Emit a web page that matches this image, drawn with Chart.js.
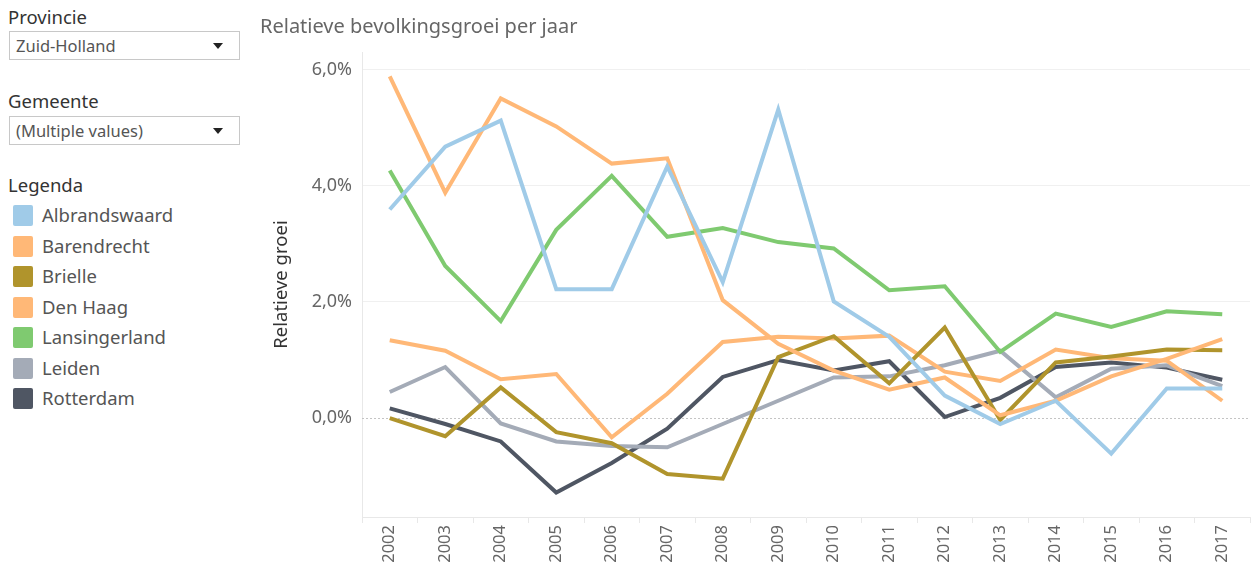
<!DOCTYPE html>
<html>
<head>
<meta charset="utf-8">
<script src="https://cdn.jsdelivr.net/npm/chart.js@4"></script>
<style>
  body { margin: 0; background: #fff; font-family: "Noto Sans", sans-serif; }
  #side { position: absolute; left: 0; top: 0; width: 250px; }
  .label { position: absolute; left: 8px; font-size: 18.5px; color: #333; white-space: nowrap; }
  .select { position: absolute; left: 9px; width: 229px; height: 27px; border: 1px solid #c8c8c8;
            font-size: 16.5px; color: #555; line-height: 27px; box-sizing: content-box; }
  .select span { position: absolute; left: 6px; white-space: nowrap; }
  .select i { position: absolute; right: 16px; top: 11px; width: 0; height: 0;
              border-left: 5px solid transparent; border-right: 5px solid transparent; border-top: 6px solid #222; }
  #legend { position: absolute; left: 12px; top: 205px; }
  .item { height: 30.5px; position: relative; font-size: 18.5px; color: #555; }
  .item b { position: absolute; left: 1px; top: 0; width: 20px; height: 21px; border-radius: 2px; }
  .item span { position: absolute; left: 30px; top: -3px; white-space: nowrap; }
  #wrap { position: absolute; left: 255px; top: 0; width: 1000px; height: 570px; }
</style>
</head>
<body>
<div id="side">
  <div class="label" style="top:4px">Provincie</div>
  <div class="select" style="top:31px"><span>Zuid-Holland</span><i></i></div>
  <div class="label" style="top:88px">Gemeente</div>
  <div class="select" style="top:116px"><span>(Multiple values)</span><i></i></div>
  <div class="label" style="top:172px">Legenda</div>
  <div id="legend"></div>
</div>
<div id="wrap"><canvas id="lineChart"></canvas></div>
<script>
const years = ['2002', '2003', '2004', '2005', '2006', '2007', '2008', '2009',
               '2010', '2011', '2012', '2013', '2014', '2015', '2016', '2017'];

// relatieve groei in procent
const albrandswaard = [3.59, 4.67, 5.12, 2.22, 2.22, 4.33, 2.34, 5.31, 2.01, 1.40, 0.39, -0.10, 0.30, -0.61, 0.51, 0.51];
const barendrecht   = [5.88, 3.88, 5.50, 5.02, 4.38, 4.47, 2.03, 1.28, 0.82, 0.49, 0.70, 0.05, 0.30, 0.72, 1.02, 1.36];
const brielle       = [0.00, -0.31, 0.53, -0.24, -0.43, -0.96, -1.04, 1.05, 1.41, 0.60, 1.56, -0.03, 0.96, 1.06, 1.18, 1.17];
const denHaag       = [1.34, 1.16, 0.67, 0.76, -0.33, 0.42, 1.31, 1.40, 1.37, 1.42, 0.80, 0.64, 1.18, 1.03, 0.99, 0.30];
const lansingerland = [4.26, 2.62, 1.67, 3.24, 4.17, 3.12, 3.27, 3.03, 2.92, 2.20, 2.27, 1.14, 1.80, 1.57, 1.84, 1.79];
const leiden        = [0.45, 0.88, -0.09, -0.40, -0.48, -0.50, -0.10, 0.30, 0.70, 0.72, 0.91, 1.16, 0.36, 0.85, 0.91, 0.55];
const rotterdam     = [0.17, -0.10, -0.40, -1.28, -0.77, -0.18, 0.71, 1.00, 0.82, 0.98, 0.02, 0.35, 0.88, 0.96, 0.87, 0.66];

const yTicks = [0, 2, 4, 6];

const gemeenten = ['Albrandswaard', 'Barendrecht', 'Brielle', 'Den Haag', 'Lansingerland', 'Leiden', 'Rotterdam'];
const series = [albrandswaard, barendrecht, brielle, denHaag, lansingerland, leiden, rotterdam];
const colors = ['#a0cbe8', '#ffb877', '#b0942c', '#ffb877', '#7fca70', '#a4abb7', '#4f5663'];

// Legend on the left
const legend = document.getElementById('legend');
gemeenten.forEach((name, i) => {
    const row = document.createElement('div');
    row.className = 'item';
    row.innerHTML = `<b style="background:${colors[i]}"></b><span>${name}</span>`;
    legend.appendChild(row);
});

// dotted line at 0%
const zeroLine = {
    id: 'zeroLine',
    beforeDatasetsDraw(chart) {
        const { ctx, chartArea, scales: { y } } = chart;
        const py = Math.round(y.getPixelForValue(0)) + 0.5;
        ctx.save();
        ctx.setLineDash([2, 2]);
        ctx.strokeStyle = '#c4c4c4';
        ctx.lineWidth = 1;
        ctx.beginPath();
        ctx.moveTo(chartArea.left, py);
        ctx.lineTo(chartArea.right, py);
        ctx.stroke();
        ctx.restore();
    }
};

const font = 'Noto Sans';
const ctx = document.getElementById('lineChart').getContext('2d');
const chart = new Chart(ctx, {
    type: 'line',
    data: {
        labels: years,
        datasets: gemeenten.map((name, i) => ({
            label: name,
            data: series[i],
            borderColor: colors[i],
            borderWidth: 4,
            pointRadius: 0,
            tension: 0
        }))
    },
    options: {
        responsive: true,
        maintainAspectRatio: false,
        animation: false,
        layout: { padding: { left: 5, right: 5 } },
        plugins: {
            legend: { display: false },
            tooltip: { enabled: false },
            title: {
                display: true,
                text: 'Relatieve bevolkingsgroei per jaar',
                align: 'start',
                color: '#666',
                font: { family: font, size: 20, weight: 'normal' },
                padding: { top: 15, bottom: 13 }
            }
        },
        scales: {
            x: {
                offset: true,
                grid: { drawOnChartArea: false, offset: true, color: '#e8e8e8', tickLength: 6 },
                border: { color: '#e8e8e8' },
                ticks: {
                    color: '#666',
                    font: { family: font, size: 16.5 },
                    minRotation: 90,
                    maxRotation: 90,
                    padding: 2
                },
                afterFit(scale) { scale.height = 53; }
            },
            y: {
                min: -1.7,
                max: 6.3,
                afterBuildTicks(scale) { scale.ticks = yTicks.map(v => ({ value: v })); },
                grid: {
                    drawTicks: false,
                    color: c => c.tick && c.tick.value === 0 ? 'rgba(0,0,0,0)' : '#f0f0f0'
                },
                border: { color: '#e8e8e8' },
                ticks: {
                    color: '#666',
                    padding: 10,
                    font: { family: font, size: 18 },
                    callback: v => v.toFixed(1).replace('.', ',') + '%'
                },
                title: {
                    display: true,
                    text: 'Relatieve groei',
                    color: '#333',
                    font: { family: font, size: 18.5 },
                    padding: { top: 11, bottom: 0 }
                },
                afterFit(scale) { scale.width = 102; }
            }
        }
    },
    plugins: [zeroLine]
});
</script>
</body>
</html>
